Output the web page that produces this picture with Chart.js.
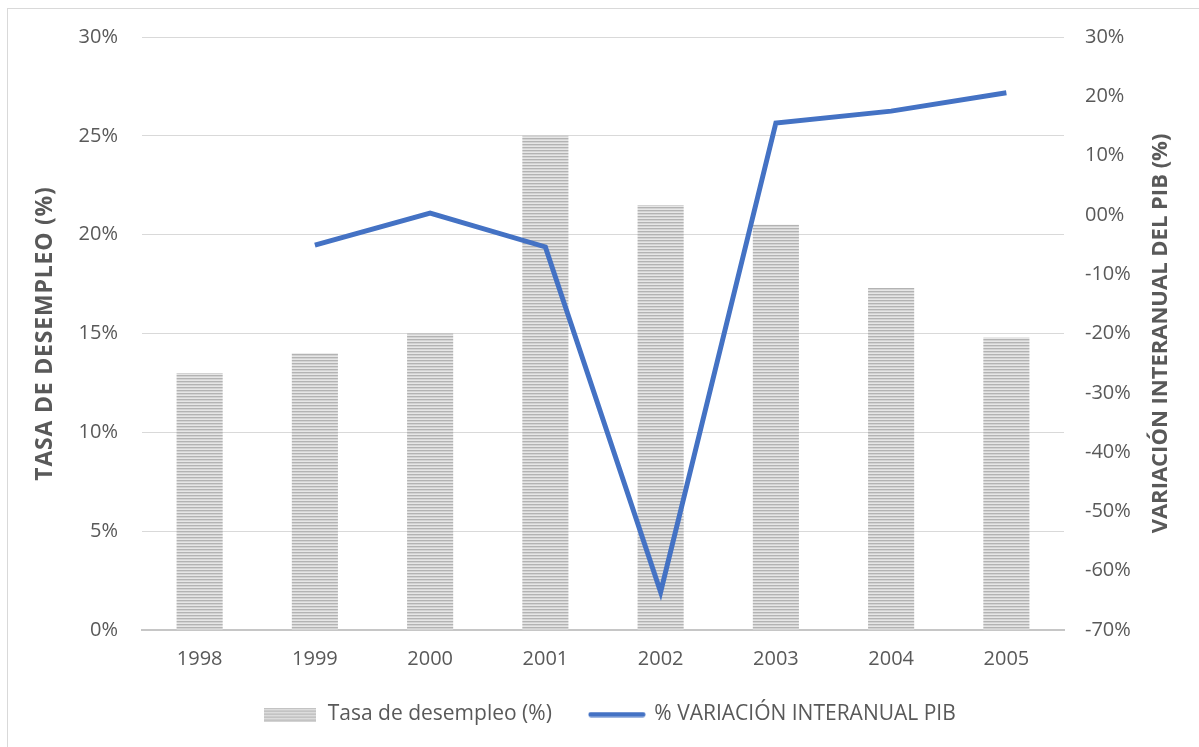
<!DOCTYPE html>
<html>
<head>
<meta charset="utf-8">
<script src="https://cdn.jsdelivr.net/npm/chart.js@4.4.1/dist/chart.umd.min.js"></script>
<style>
  html, body { margin: 0; padding: 0; background: #ffffff; }
  #wrap { width: 1199px; height: 747px; position: relative; }
</style>
</head>
<body>
<div id="wrap"><canvas id="chart" width="1199" height="747"></canvas></div>
<script>
// Years on the category axis
const years = ['1998', '1999', '2000', '2001', '2002', '2003', '2004', '2005'];
// Unemployment rate (%), left axis
const unemployment = [13.0, 14.0, 15.0, 25.0, 21.5, 20.5, 17.3, 14.8];
// Year-on-year GDP change (%), right axis
const gdpChange = [null, -5.1, 0.3, -5.4, -63.6, 15.5, 17.5, 20.6];

const leftTitle = 'TASA DE DESEMPLEO (%)';
const rightTitle = 'VARIACIÓN INTERANUAL DEL PIB (%)';

const TEXT = '#595959';
const FONT = "'Open Sans', 'DejaVu Sans', sans-serif";

// Horizontal grey stripes used to fill the bars
function stripeCanvas(w, h) {
  const c = document.createElement('canvas');
  c.width = w; c.height = h;
  const g = c.getContext('2d');
  const rows = ['#b3b3b3', '#d3d3d3', '#e6e6e6'];
  for (let y = 0; y < h; y++) {
    g.fillStyle = rows[y % rows.length];
    g.fillRect(0, y, w, 1);
  }
  return c;
}
const stripePattern = document.createElement('canvas').getContext('2d')
  .createPattern(stripeCanvas(4, 3), 'repeat');

// Legend swatches
const barSwatch = stripeCanvas(52, 14);
const lineSwatch = (() => {
  const c = document.createElement('canvas');
  c.width = 58; c.height = 6;
  const g = c.getContext('2d');
  g.strokeStyle = '#4472c4';
  g.lineWidth = 5;
  g.lineCap = 'round';
  g.beginPath(); g.moveTo(3, 3); g.lineTo(55, 3); g.stroke();
  return c;
})();

// Light frame around the whole chart
const framePlugin = {
  id: 'frame',
  beforeDraw(chart) {
    const ctx = chart.ctx;
    ctx.save();
    ctx.fillStyle = '#ffffff';
    ctx.fillRect(0, 0, chart.width, chart.height);
    ctx.strokeStyle = '#d9d9d9';
    ctx.lineWidth = 1;
    ctx.strokeRect(7.5, 8.5, chart.width + 20, chart.height + 20);
    ctx.restore();
  }
};

// Both axis titles read bottom-to-top
const axisTitlePlugin = {
  id: 'axisTitles',
  afterDraw(chart) {
    const ctx = chart.ctx;
    const area = chart.chartArea;
    const midY = (area.top + area.bottom) / 2;
    const draw = (text, x, size, spacing) => {
      ctx.save();
      ctx.translate(x, midY);
      ctx.rotate(-Math.PI / 2);
      ctx.font = `bold ${size}px ${FONT}`;
      ctx.letterSpacing = spacing;
      ctx.fillStyle = TEXT;
      ctx.textAlign = 'center';
      ctx.textBaseline = 'middle';
      ctx.fillText(text, 0, 0);
      ctx.restore();
    };
    draw(leftTitle, chart.scales.y.left + 25, 23, '0.8px');
    draw(rightTitle, chart.scales.y2.right - 38, 22, '0px');
  }
};

const PLOT_BOTTOM = 630;

new Chart(document.getElementById('chart'), {
  type: 'bar',
  data: {
    labels: years,
    datasets: [
      {
        type: 'line',
        label: '% VARIACIÓN INTERANUAL PIB',
        data: gdpChange,
        yAxisID: 'y2',
        borderColor: '#4472c4',
        backgroundColor: '#4472c4',
        borderWidth: 5,
        pointRadius: 0,
        pointHoverRadius: 0,
        tension: 0,
        spanGaps: false,
        order: 0,
        pointStyle: lineSwatch
      },
      {
        type: 'bar',
        label: 'Tasa de desempleo (%)',
        data: unemployment,
        yAxisID: 'y',
        backgroundColor: stripePattern,
        borderWidth: 0,
        categoryPercentage: 1.0,
        barPercentage: 0.4,
        order: 1,
        pointStyle: barSwatch
      }
    ]
  },
  options: {
    responsive: false,
    animation: false,
    devicePixelRatio: 1,
    layout: { padding: { top: 37, left: 20, right: 0, bottom: 12 } },
    plugins: {
      tooltip: { enabled: false },
      legend: {
        position: 'bottom',
        reverse: true,
        labels: {
          usePointStyle: true,
          pointStyleWidth: 54,
          color: TEXT,
          font: { family: FONT, size: 21 },
          padding: 38
        }
      }
    },
    scales: {
      x: {
        grid: { display: false, drawTicks: false },
        border: { display: true, color: '#c6c6c6', width: 2 },
        ticks: { color: TEXT, font: { family: FONT, size: 20 }, padding: 17 },
        afterFit(scale) {
          const legendH = scale.chart.legend ? scale.chart.legend.height : 0;
          scale.height = scale.chart.height - PLOT_BOTTOM - legendH - 12;
        }
      },
      y: {
        position: 'left',
        min: 0,
        max: 30,
        ticks: {
          stepSize: 5,
          color: TEXT,
          font: { family: FONT, size: 20 },
          padding: 24,
          callback: v => v + '%'
        },
        grid: { color: '#d9d9d9', lineWidth: 1, drawTicks: false },
        border: { display: false },
        afterFit(scale) { scale.width = 122; }
      },
      y2: {
        position: 'right',
        min: -70,
        max: 30,
        ticks: {
          stepSize: 10,
          color: TEXT,
          font: { family: FONT, size: 20 },
          padding: 21,
          callback: v => (v === 0 ? '00' : String(v)) + '%'
        },
        grid: { display: false, drawTicks: false },
        border: { display: false },
        afterFit(scale) { scale.width = 135; }
      }
    }
  },
  plugins: [framePlugin, axisTitlePlugin]
});
</script>
</body>
</html>
